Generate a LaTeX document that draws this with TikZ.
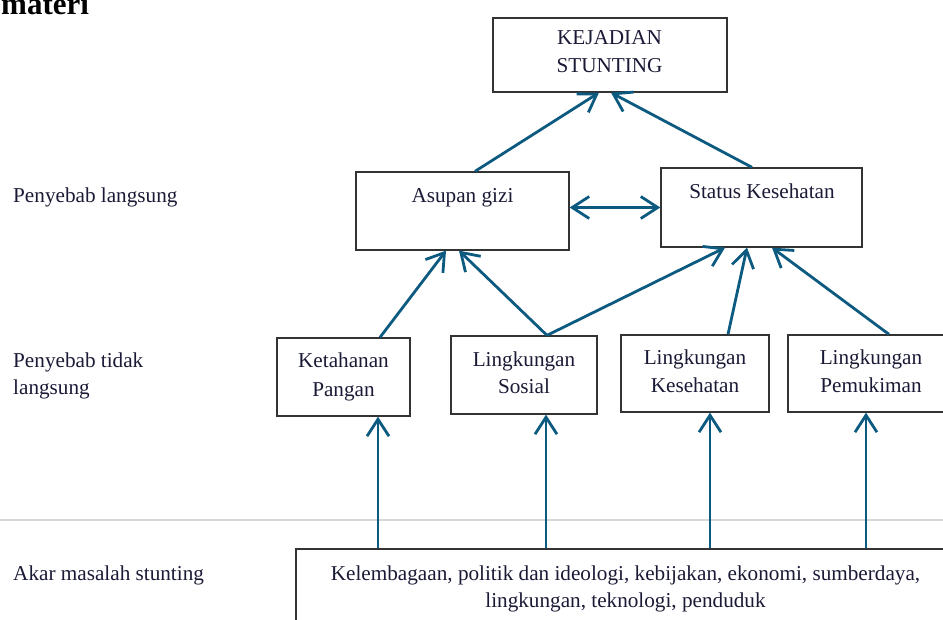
\documentclass[tikz,border=0pt]{standalone}
\usepackage{fontspec}
\setmainfont{Liberation Serif}
\usetikzlibrary{arrows.meta}
\definecolor{arrowblue}{HTML}{0D5A80}
\definecolor{inkcol}{HTML}{1A1A36}
\definecolor{boxline}{HTML}{333333}
\definecolor{rulegray}{HTML}{D6D6D6}
\begin{document}
\begin{tikzpicture}[x=1pt,y=-1pt,
  box/.style={draw=boxline, line width=1.3pt, inner sep=0pt},
  lbl/.style={text=inkcol, font=\fontsize{21.2}{27}\selectfont, inner sep=0pt, anchor=base},
  side/.style={lbl, anchor=base west},
  arr/.style={draw=arrowblue, line width=2.8pt, -{Straight Barb[length=17pt,width=22pt]}},
  darr/.style={draw=arrowblue, line width=2.8pt, {Straight Barb[length=17pt,width=22pt]}-{Straight Barb[length=17pt,width=22pt]}}]
\useasboundingbox (0,0) rectangle (943,620);
\clip (0,0) rectangle (943,620);
% separator
\draw[rulegray, line width=2pt] (0,519.5) -- (943,519.5);
% title
\node[anchor=base west, inner sep=0pt, text=black, font=\fontsize{31}{36}\selectfont\bfseries] (title) at (1,15) {materi};
% boxes
\node[box, minimum width=234pt, minimum height=74pt] (kej) at (610,55) {};
\node[box, minimum width=213pt, minimum height=78pt] (asu) at (462.5,211) {};
\node[box, minimum width=201pt, minimum height=79pt] (sta) at (761.5,207.5) {};
\node[box, minimum width=133pt, minimum height=78pt] (ket) at (343.5,377) {};
\node[box, minimum width=146pt, minimum height=78pt] (sos) at (524,375) {};
\node[box, minimum width=148pt, minimum height=77pt] (kes) at (695,373.5) {};
\node[box, minimum width=166pt, minimum height=77pt] (pem) at (871,373.5) {};
\node[box, minimum width=664pt, minimum height=91pt] (root) at (628,594.5) {};
% box texts
\node[lbl] (kejA) at (609.5,45) {KEJADIAN};
\node[lbl] (kejB) at (609.5,73) {STUNTING};
\node[lbl] (asuT) at (462.5,203) {Asupan gizi};
\node[lbl] (staT) at (762,199) {Status Kesehatan};
\node[lbl] (ketA) at (343.5,368) {Ketahanan};
\node[lbl] (ketB) at (343.5,396) {Pangan};
\node[lbl] (sosA) at (524,367) {Lingkungan};
\node[lbl] (sosB) at (524,394) {Sosial};
\node[lbl] (kesA) at (695,365) {Lingkungan};
\node[lbl] (kesB) at (695,393) {Kesehatan};
\node[lbl] (pemA) at (871,365) {Lingkungan};
\node[lbl] (pemB) at (871,393) {Pemukiman};
\node[lbl] (rootA) at (625.5,580) {Kelembagaan, politik dan ideologi, kebijakan, ekonomi, sumberdaya,};
\node[lbl] (rootB) at (625.5,607) {lingkungan, teknologi, penduduk};
% side labels
\node[side] (s1) at (13,203) {Penyebab langsung};
\node[side] (s2) at (13,368) {Penyebab tidak};
\node[side] (s3) at (13,395) {langsung};
\node[side] (s4) at (13,580) {Akar masalah stunting};
% connectors
\draw[arr] ([xshift=12.5pt]asu.north) -- ([xshift=-11pt]kej.south);
\draw[arr] ([xshift=-9.5pt]sta.north) -- ([xshift=1pt]kej.south);
\draw[darr] (asu.east |- sta.west) -- (sta.west);
\draw[arr] ([xshift=36.5pt]ket.north) -- ([xshift=-16.5pt]asu.south);
\draw[arr] ([xshift=23pt]sos.north) -- ([xshift=-3.5pt]asu.south);
\draw[arr] ([xshift=23pt]sos.north) -- ([xshift=-36.5pt]sta.south);
\draw[arr] ([xshift=33pt]kes.north) -- ([xshift=-14.5pt]sta.south);
\draw[arr] ([xshift=18pt]pem.north) -- ([xshift=10.5pt]sta.south);
\draw[arr] ([xshift=34.5pt]ket.south |- root.north) -- ([xshift=34.5pt]ket.south);
\draw[arr] ([xshift=22pt]sos.south |- root.north) -- ([xshift=22pt]sos.south);
\draw[arr] ([xshift=15pt]kes.south |- root.north) -- ([xshift=15pt]kes.south);
\draw[arr] ([xshift=-5pt]pem.south |- root.north) -- ([xshift=-5pt]pem.south);
\end{tikzpicture}
\end{document}
